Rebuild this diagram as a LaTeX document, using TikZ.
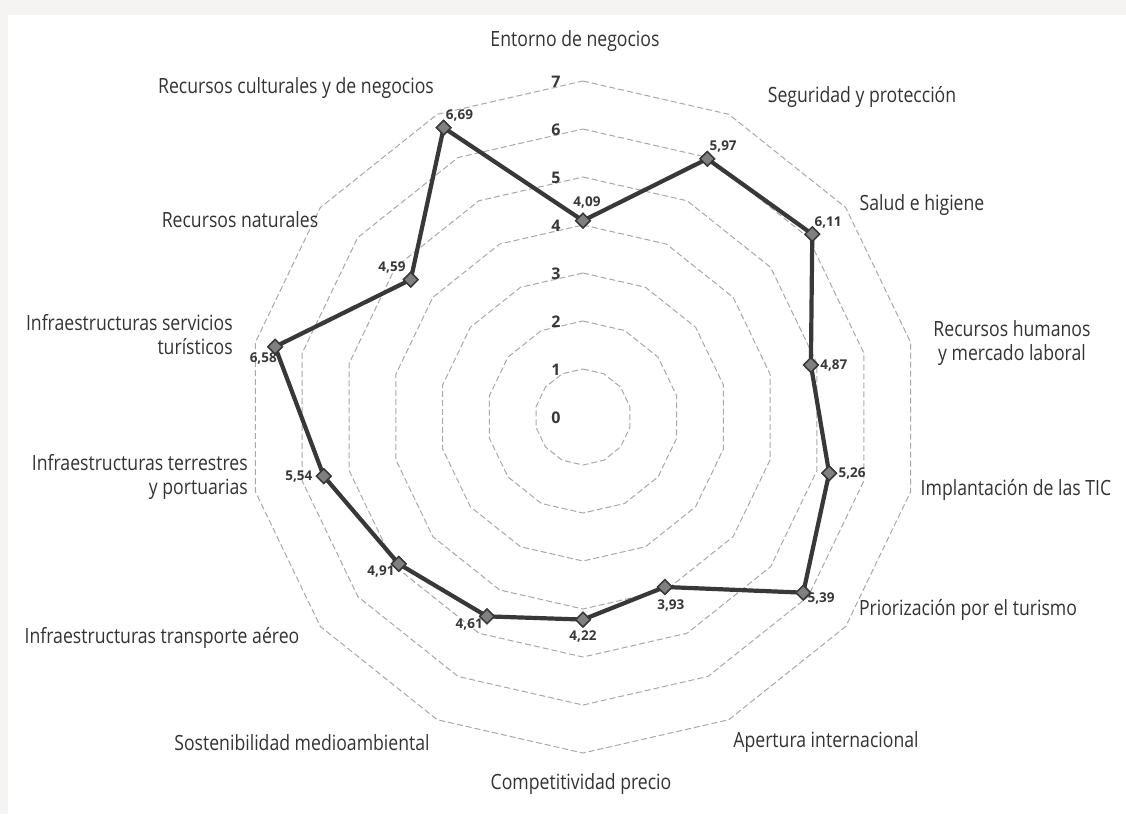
\documentclass[tikz,border=0pt]{standalone}
\usepackage{fontspec}
\setmainfont{Open Sans}[FakeStretch=0.84]
\newfontfamily\valfont{Open Sans}
\usetikzlibrary{positioning,shapes.geometric}
\definecolor{txtgray}{HTML}{333333}
\definecolor{ringgray}{HTML}{A8A8A8}
\definecolor{linegray}{HTML}{383838}
\definecolor{markgray}{HTML}{808080}
\definecolor{bandgray}{HTML}{F5F4F2}
\begin{document}
\begin{tikzpicture}[x=1pt,y=-1pt,
    axislabel/.style={text=txtgray,font=\fontsize{21}{24}\selectfont,inner sep=0pt,align=center},
    ring/.style={ringgray,line width=1pt,dash pattern=on 6pt off 3pt},
    datamark/.style={diamond,draw=linegray,fill=markgray,line width=1.4pt,minimum size=15pt,inner sep=0pt},
    vallabel/.style={text=linegray,font=\valfont\bfseries\fontsize{13.5}{15}\selectfont,inner sep=1pt},
    ticklabel/.style={text=linegray,font=\valfont\bfseries\fontsize{16}{18}\selectfont,inner sep=0pt}]
  % background and frame bands
  \useasboundingbox (0,0) rectangle (1126,814);
  \fill[white] (0,0) rectangle (1126,814);
  \fill[bandgray] (0,0) rectangle (1126,15);
  \fill[bandgray] (0,15) rectangle (8,814);

  \begin{scope}[shift={(583,417)}]
    % rings 1..7
    \foreach \k in {1,...,7}
      \draw[ring] (90:\k*48pt) \foreach \i in {1,...,13}{ -- (90-\i*360/14:\k*48pt)} -- cycle;
    % scale values
    \foreach \k in {0,...,7}
      \node[ticklabel] (tick\k) at (-27,-\k*48+1) {\k};

    % data points
    \node[datamark] (p0)  at (90:4.09*48pt) {};
    \node[datamark] (p1)  at (90-1*360/14:5.97*48pt) {};
    \node[datamark] (p2)  at (90-2*360/14:6.11*48pt) {};
    \node[datamark] (p3)  at (90-3*360/14:4.87*48pt) {};
    \node[datamark] (p4)  at (90-4*360/14:5.26*48pt) {};
    \node[datamark] (p5)  at (90-5*360/14:5.87*48pt) {};
    \node[datamark] (p6)  at (90-6*360/14:3.93*48pt) {};
    \node[datamark] (p7)  at (90-7*360/14:4.22*48pt) {};
    \node[datamark] (p8)  at (90-8*360/14:4.61*48pt) {};
    \node[datamark] (p9)  at (90-9*360/14:4.91*48pt) {};
    \node[datamark] (p10) at (90-10*360/14:5.54*48pt) {};
    \node[datamark] (p11) at (90-11*360/14:6.58*48pt) {};
    \node[datamark] (p12) at (90-12*360/14:4.59*48pt) {};
    \node[datamark] (p13) at (90-13*360/14:6.69*48pt) {};
    \draw[linegray,line width=4.2pt,line join=round]
      (p0.center) -- (p1.center) -- (p2.center) -- (p3.center) -- (p4.center)
      -- (p5.center) -- (p6.center) -- (p7.center) -- (p8.center) -- (p9.center)
      -- (p10.center) -- (p11.center) -- (p12.center) -- (p13.center) -- cycle;
    \foreach \i in {0,...,13}
      \node[datamark] at (p\i) {};

    % value labels
    \node[vallabel,above=3pt of p0,xshift=4pt] (v0) {4,09};
    \node[vallabel,above right=1pt and -3pt of p1] (v1) {5,97};
    \node[vallabel,above right=1pt and -3pt of p2] (v2) {6,11};
    \node[vallabel,right=0pt of p3] (v3) {4,87};
    \node[vallabel,right=0pt of p4] (v4) {5,26};
    \node[vallabel,below right=-5pt and -1pt of p5] (v5) {5,39};
    \node[vallabel,below=3pt of p6,xshift=6pt] (v6) {3,93};
    \node[vallabel,below=2pt of p7] (v7) {4,22};
    \node[vallabel,below left=-3pt and -1pt of p8] (v8) {4,61};
    \node[vallabel,below left=-3pt and -1pt of p9] (v9) {4,91};
    \node[vallabel,left=2pt of p10] (v10) {5,54};
    \node[vallabel,below left=1pt and -7pt of p11] (v11) {6,58};
    \node[vallabel,above left=1pt and 0pt of p12] (v12) {4,59};
    \node[vallabel,above right=1pt and -3pt of p13] (v13) {6,69};
  \end{scope}

  % axis labels
  \node[axislabel] (entorno) at (575,41) {Entorno de negocios};
  \node[axislabel] (seguridad) at (862,97) {Seguridad y protección};
  \node[axislabel] (salud) at (922,205) {Salud e higiene};
  \node[axislabel] (rrhh) at (1012,343) {Recursos humanos\\y mercado laboral};
  \node[axislabel] (tic) at (1016,490) {Implantación de las TIC};
  \node[axislabel] (priorizacion) at (968,610) {Priorización por el turismo};
  \node[axislabel] (apertura) at (826,742) {Apertura internacional};
  \node[axislabel] (precio) at (581,784) {Competitividad precio};
  \node[axislabel] (sostenibilidad) at (302,743) {Sostenibilidad medioambiental};
  \node[axislabel] (aereo) at (162,638) {Infraestructuras transporte aéreo};
  \node[axislabel,anchor=east,align=right] (terrestres) at (248,477) {Infraestructuras terrestres\\y portuarias};
  \node[axislabel,anchor=east,align=right] (servicios) at (233,335) {Infraestructuras servicios\\turísticos};
  \node[axislabel] (naturales) at (240,220) {Recursos naturales};
  \node[axislabel] (culturales) at (296,88) {Recursos culturales y de negocios};
\end{tikzpicture}
\end{document}
